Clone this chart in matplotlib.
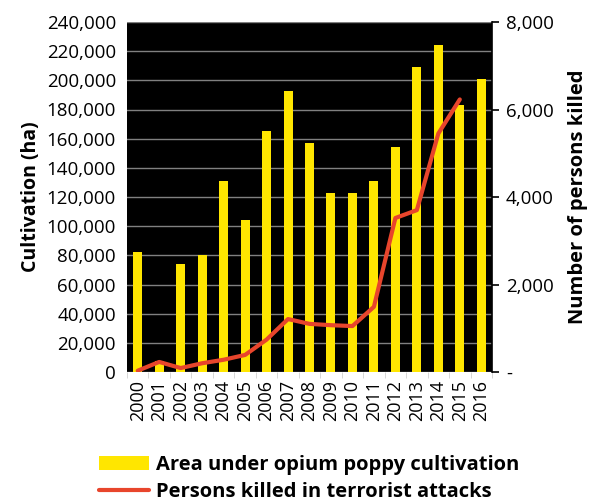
import numpy as np
import matplotlib
matplotlib.use("Agg")
import matplotlib.pyplot as plt
from matplotlib.ticker import FuncFormatter

years = [str(y) for y in range(2000, 2017)]
cultivation = [82000, 7600, 74000, 80000, 131000, 104000, 165000, 193000,
               157000, 123000, 123000, 131000, 154000, 209000, 224000,
               183000, 201000]
killed_years = years[:16]
killed = [30, 230, 90, 200, 280, 390, 740, 1210, 1100, 1070, 1050, 1490,
          3520, 3700, 5450, 6230]

plt.rcParams['font.family'] = ['Open Sans', 'DejaVu Sans']

fig = plt.figure(figsize=(6.03, 5.03), dpi=100)
ax = fig.add_axes([127 / 603, 1 - 372 / 503, 365 / 603, 350 / 503])
ax.set_facecolor('black')

x = np.arange(len(years))
ax.bar(x, cultivation, width=0.42, color='#FFE600', zorder=3,
       label='Area under opium poppy cultivation')
ax.set_xlim(-0.5, len(years) - 0.5)
ax.set_ylim(0, 240000)
ax.set_yticks(np.arange(0, 240001, 20000))
ax.yaxis.set_major_formatter(FuncFormatter(lambda v, p: f"{int(v):,}"))
ax.grid(axis='y', color='#808080', linewidth=1, zorder=1)
ax.set_xticks(x)
ax.set_xticklabels(years, rotation=90)
ax.set_xticks(np.arange(-0.5, len(years), 1), minor=True)
ax.tick_params(axis='x', which='major', length=0, pad=6, labelsize=13)
ax.tick_params(axis='x', which='minor', length=4, color='#d0d0d0')
ax.tick_params(axis='y', length=0, labelsize=13.5, pad=8)
for s in ax.spines.values():
    s.set_visible(False)
ax.set_ylabel('Cultivation (ha)', fontsize=14, fontweight='bold', labelpad=4)

ax2 = ax.twinx()
line, = ax2.plot(np.arange(len(killed_years)), killed, color='#E8452C',
                 linewidth=3, solid_joinstyle='round', solid_capstyle='round',
                 label='Persons killed in terrorist attacks', zorder=4)
ax2.set_ylim(0, 8000)
ax2.set_yticks([0, 2000, 4000, 6000, 8000])
ax2.yaxis.set_major_formatter(
    FuncFormatter(lambda v, p: '-' if v == 0 else f"{int(v):,}"))
ax2.tick_params(axis='y', length=5, width=1.2, labelsize=13.5, pad=5)
for s in ax2.spines.values():
    s.set_visible(False)
ax2.spines['right'].set_visible(True)
ax2.spines['right'].set_color('black')
ax2.spines['right'].set_linewidth(1.2)
ax2.set_ylabel('Number of persons killed', fontsize=14.5, fontweight='bold',
               labelpad=10)

handles = [ax.containers[0], line]
fig.legend(handles, [h.get_label() for h in handles],
           loc='lower left', bbox_to_anchor=(88 / 603, -0.02),
           frameon=False, prop={'size': 14.5, 'weight': 'bold'},
           handlelength=2.5, handletextpad=0.35, labelspacing=0.35,
           borderpad=0.05)

fig.savefig('out.png', dpi=100)
